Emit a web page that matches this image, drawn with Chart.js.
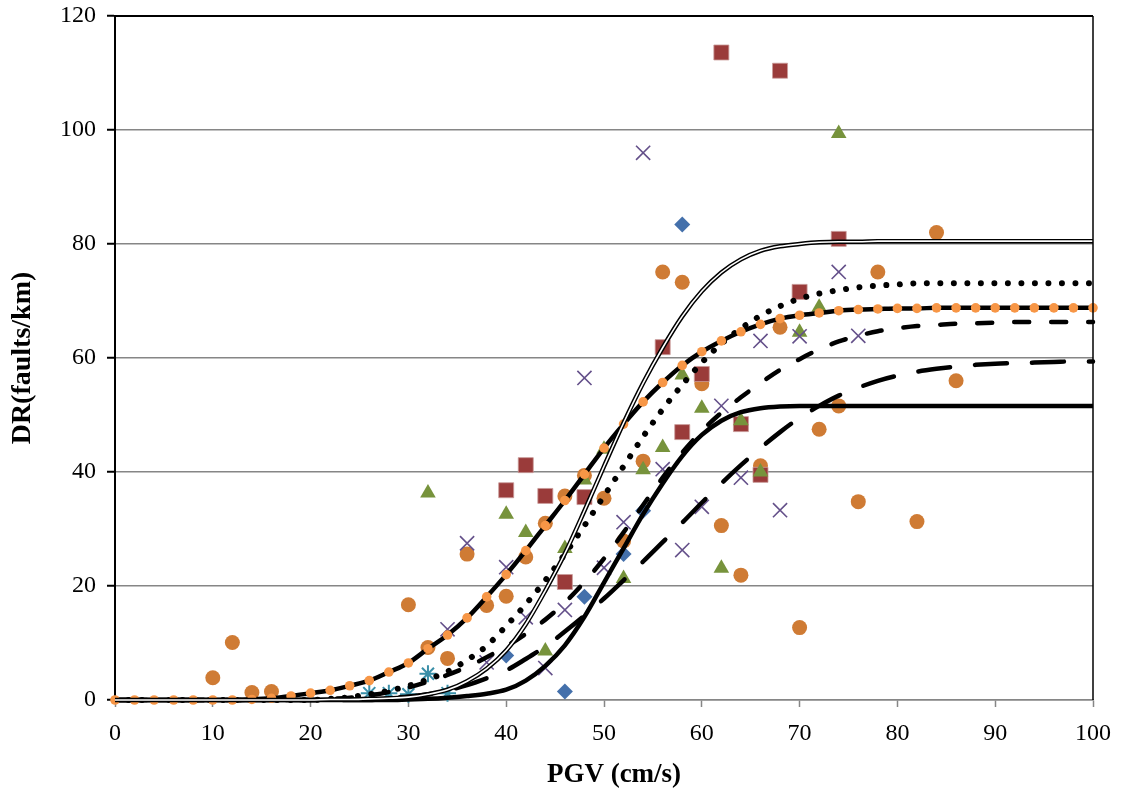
<!DOCTYPE html>
<html>
<head>
<meta charset="utf-8">
<script src="https://cdn.jsdelivr.net/npm/chart.js@4.4.1/dist/chart.umd.min.js"></script>
<style>
  html, body { margin: 0; padding: 0; background: #ffffff; }
  canvas { display: block; }
</style>
</head>
<body>
<canvas id="c" width="1123" height="799"></canvas>
<script>
// ---- Data ----
const pgvGrid = [0,2,4,6,8,10,12,14,16,18,20,22,24,26,28,30,32,34,36,38,40,42,44,46,48,50,52,54,56,58,60,62,64,66,68,70,72,74,76,78,80,82,84,86,88,90,92,94,96,98,100];

// fitted curves (values read along the x grid)
const curveDouble = [0,0,0,0,0,0,0,0,0,0,0,0.1,0.1,0.2,0.3,0.5,1.0,1.8,3.3,5.5,8.7,13.3,19.2,25.7,33.2,41.0,48.6,55.6,61.8,67.3,71.7,75.0,77.3,78.8,79.6,80.0,80.3,80.4,80.4,80.5,80.5,80.5,80.5,80.5,80.5,80.5,80.5,80.5,80.5,80.5,80.5];
const curveDotted = [0,0,0,0,0,0,0,0,0,0,0,0.2,0.5,1.0,1.6,2.5,3.6,5.0,7.0,9.5,13.0,16.8,21.0,25.6,30.6,35.8,41.0,46.2,51.0,55.3,59.2,62.5,65.2,67.4,69.1,70.4,71.3,71.9,72.4,72.7,72.9,73.1,73.1,73.1,73.1,73.1,73.1,73.1,73.1,73.1,73.1];
const curveMarked = [0,0,0,0,0,0,0,0.1,0.3,0.7,1.2,1.7,2.5,3.4,4.9,6.5,9.0,11.4,14.4,18.1,22.0,26.2,30.6,35.0,39.6,44.2,48.4,52.3,55.7,58.7,61.1,63.0,64.6,65.9,66.9,67.5,67.9,68.3,68.5,68.6,68.7,68.7,68.8,68.8,68.8,68.8,68.8,68.8,68.8,68.8,68.8];
const curveShortDash = [0,0,0,0,0,0,0,0,0,0,0,0.2,0.4,0.8,1.4,2.2,3.2,4.4,5.8,7.5,9.4,11.6,14.1,17.1,20.7,24.8,29.4,34.2,39.0,43.4,47.2,50.4,53.1,55.6,57.9,59.8,61.5,62.9,63.9,64.7,65.2,65.6,65.8,66.0,66.1,66.2,66.3,66.3,66.3,66.3,66.3];
const curveLongDash = [0,0,0,0,0,0,0,0,0,0,0,0,0,0,0.3,0.6,1.0,1.7,2.6,3.8,5.2,7.2,9.4,12.0,14.8,17.8,21.0,24.3,27.7,31.1,34.6,38.0,41.2,44.2,47.0,49.5,51.6,53.4,54.8,56.0,56.9,57.6,58.1,58.5,58.8,59.0,59.1,59.2,59.3,59.4,59.4];
const curveSolid = [0,0,0,0,0,0,0,0,0,0,0,0,0,0,0,0.1,0.2,0.4,0.7,1.1,1.8,3.4,6.0,9.6,14.6,20.6,26.6,32.6,38.0,42.8,46.5,49.0,50.5,51.2,51.5,51.6,51.6,51.6,51.6,51.6,51.6,51.6,51.6,51.6,51.6,51.6,51.6,51.6,51.6,51.6,51.6];

// observed points
const diamondX = [40,46,48,52,54,58];
const diamondY = [7.8,1.5,18.1,25.6,33.2,83.4];
const squareX = [40,42,44,46,48,56,58,60,62,64,66,68,70,74];
const squareY = [36.8,41.2,35.8,20.7,35.6,61.9,47.0,57.2,113.6,48.4,39.5,110.4,71.6,80.9];
const triangleX = [32,40,42,44,46,48,50,52,54,56,58,60,62,64,66,70,72,74];
const triangleY = [36.3,32.6,29.4,8.6,26.6,38.6,44.0,21.3,40.4,44.3,57.0,51.2,23.1,49.0,40.0,64.5,68.9,99.4];
const crossX = [34,36,38,40,42,44,46,48,50,52,54,56,58,60,62,64,66,68,70,74,76];
const crossY = [12.4,27.5,6.6,23.3,14.5,5.6,15.8,56.5,23.2,31.2,96.0,40.5,26.3,33.9,51.6,39.0,63.0,33.3,63.8,75.1,63.9];
const starX = [26,28,30,32,34];
const starY = [1.2,1.2,1.0,4.6,1.2];
const circleX = [10,12,14,16,30,32,34,36,38,40,42,44,46,48,50,52,54,56,58,60,62,64,66,68,70,72,74,76,78,82,84,86];
const circleY = [3.9,10.1,1.3,1.5,16.7,9.2,7.3,25.6,16.6,18.2,25.1,31.0,35.8,39.4,35.4,27.9,41.9,75.1,73.3,55.5,30.6,21.9,41.1,65.4,12.7,47.5,51.6,34.8,75.1,31.3,82.0,56.0];

const xTicks = [0,10,20,30,40,50,60,70,80,90,100];
const yTicks = [0,20,40,60,80,100,120];
const xTitle = 'PGV (cm/s)';
const yTitle = 'DR(faults/km)';

// ---- helpers ----
const toPts = (xs, ys) => xs.map((x, i) => ({ x: x, y: ys[i] }));
const SERIF = "'Liberation Serif', 'Times New Roman', 'DejaVu Serif', serif";

function curve(ys, opts) {
  return Object.assign({
    data: toPts(pgvGrid, ys),
    showLine: true,
    pointRadius: 0,
    pointHoverRadius: 0,
    borderColor: '#000000',
    backgroundColor: '#000000',
    borderWidth: 4.5,
    cubicInterpolationMode: 'monotone',
    fill: false,
    clip: false,
    order: 1
  }, opts);
}
function markers(xs, ys, opts) {
  return Object.assign({
    data: toPts(xs, ys),
    showLine: false,
    clip: false,
    order: 10
  }, opts);
}

const frame = {
  id: 'frame',
  afterDraw(chart) {
    const a = chart.chartArea, ctx = chart.ctx;
    ctx.save();
    ctx.strokeStyle = '#000000';
    ctx.lineWidth = 2;
    ctx.beginPath();
    ctx.moveTo(a.left - 1, a.top);
    ctx.lineTo(a.right, a.top);
    ctx.stroke();
    ctx.lineWidth = 1.5;
    ctx.beginPath();
    ctx.moveTo(a.right, a.top);
    ctx.lineTo(a.right, a.bottom);
    ctx.stroke();
    // x-axis title, centred slightly right of the plot centre as in the reference
    ctx.fillStyle = '#000000';
    ctx.font = "bold 27px " + SERIF;
    ctx.textAlign = 'center';
    ctx.textBaseline = 'middle';
    ctx.fillText(xTitle, (a.left + a.right) / 2 + 10, 775);
    ctx.restore();
  }
};

new Chart(document.getElementById('c'), {
  type: 'scatter',
  data: {
    datasets: [
      // markers (drawn beneath the curves)
      markers(circleX, circleY, { pointStyle: 'circle', pointRadius: 7.5, pointBackgroundColor: '#CF7B34', pointBorderColor: '#CF7B34', pointBorderWidth: 0, order: 14 }),
      markers(diamondX, diamondY, { pointStyle: 'rectRot', pointRadius: 8, pointBackgroundColor: '#4470AB', pointBorderColor: '#4470AB', pointBorderWidth: 0, order: 13 }),
      markers(squareX, squareY, { pointStyle: 'rect', pointRadius: 10.6, pointBackgroundColor: '#9A3B3A', pointBorderColor: '#C99A99', pointBorderWidth: 0.8, order: 12 }),
      markers(triangleX, triangleY, { pointStyle: 'triangle', pointRadius: 9, pointBackgroundColor: '#77933C', pointBorderColor: '#77933C', pointBorderWidth: 0, order: 11 }),
      markers(crossX, crossY, { pointStyle: 'crossRot', pointRadius: 10, pointBackgroundColor: '#64508A', pointBorderColor: '#64508A', pointBorderWidth: 1.6, order: 10 }),
      markers(starX, starY, { pointStyle: 'star', pointRadius: 8.5, pointBackgroundColor: '#3A8FA8', pointBorderColor: '#3A8FA8', pointBorderWidth: 2, order: 9 }),
      // curves
      curve(curveSolid, { borderWidth: 4.5, order: 6 }),
      curve(curveLongDash, { borderWidth: 4.5, borderDash: [32, 25], borderCapStyle: 'round', order: 5 }),
      curve(curveShortDash, { borderWidth: 4.5, borderDash: [15, 22], borderCapStyle: 'round', order: 4 }),
      curve(curveDotted, { borderWidth: 6, borderDash: [0.01, 13.5], borderCapStyle: 'round', order: 3 }),
      curve(curveMarked, { borderWidth: 4.5, pointRadius: 4.8, pointBackgroundColor: '#F79646', pointBorderColor: '#F79646', pointBorderWidth: 0, order: 2 }),
      curve(curveDouble, { borderWidth: 4.5, order: 1 }),
      curve(curveDouble, { borderWidth: 1.6, borderColor: '#ffffff', order: 0 })
    ]
  },
  options: {
    responsive: false,
    animation: false,
    events: [],
    layout: { padding: { left: 0, right: 30, top: 16, bottom: 0 } },
    plugins: {
      legend: { display: false },
      tooltip: { enabled: false }
    },
    scales: {
      x: {
        type: 'linear',
        min: 0, max: 100,
        afterFit(s) { s.height = 99; s.paddingLeft = 0; s.paddingRight = 0; },
        afterBuildTicks(s) { s.ticks = xTicks.map(v => ({ value: v })); },
        ticks: { font: { family: SERIF, size: 24 }, color: '#000000', padding: 12, maxRotation: 0, autoSkip: false },
        grid: { drawOnChartArea: false, drawTicks: true, tickLength: 7, tickColor: '#868686', tickWidth: 1.5 },
        border: { color: '#868686', width: 1.5 },
        title: { display: false }
      },
      y: {
        type: 'linear',
        min: 0, max: 120,
        afterFit(s) { s.width = 115; s.paddingTop = 0; s.paddingBottom = 0; },
        afterBuildTicks(s) { s.ticks = yTicks.map(v => ({ value: v })); },
        ticks: { font: { family: SERIF, size: 24 }, color: '#000000', padding: 11, autoSkip: false },
        grid: { color: '#868686', lineWidth: 1.5, drawTicks: true, tickLength: 8, tickColor: '#000000', tickWidth: 2 },
        border: { color: '#000000', width: 2 },
        title: { display: true, text: yTitle, color: '#000000', font: { family: SERIF, size: 28, weight: 'bold' }, padding: { top: 6, bottom: 0 } }
      }
    }
  },
  plugins: [frame]
});
</script>
</body>
</html>
